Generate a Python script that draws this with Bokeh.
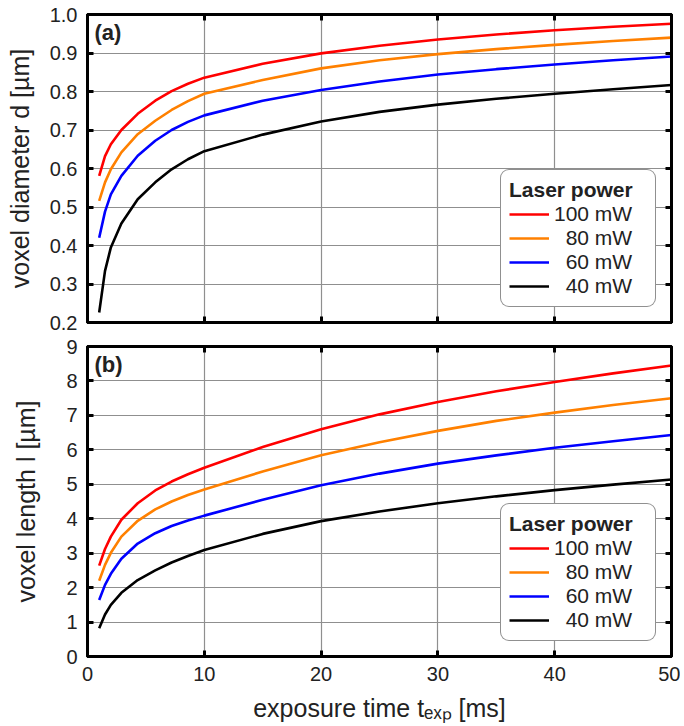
from bokeh.plotting import figure
from bokeh.layouts import column
from bokeh.models import (LinearAxis, FixedTicker, PrintfTickFormatter, Legend,
                          LegendItem, Label, Range1d, CustomLabelingPolicy)
from bokeh.embed import file_html
from bokeh.resources import INLINE

# ---- data ----
t_exp = [1, 1.5, 2, 2.9, 4.3, 5.8, 7.2, 8.6, 10, 15, 20, 25, 30, 35, 40, 45, 50]

d_100 = [0.581, 0.632, 0.663, 0.700, 0.742, 0.776, 0.801, 0.820, 0.836, 0.872,
         0.899, 0.919, 0.935, 0.948, 0.959, 0.968, 0.976]
d_80 = [0.516, 0.564, 0.598, 0.642, 0.689, 0.724, 0.752, 0.775, 0.794, 0.830,
        0.860, 0.881, 0.897, 0.910, 0.921, 0.931, 0.940]
d_60 = [0.420, 0.488, 0.533, 0.581, 0.633, 0.672, 0.700, 0.721, 0.738, 0.776,
        0.804, 0.826, 0.844, 0.858, 0.870, 0.881, 0.891]
d_40 = [0.226, 0.334, 0.395, 0.457, 0.520, 0.564, 0.598, 0.624, 0.645, 0.688,
        0.722, 0.747, 0.766, 0.781, 0.794, 0.806, 0.817]

l_100 = [2.64, 3.12, 3.48, 3.97, 4.45, 4.82, 5.08, 5.29, 5.48, 6.08,
         6.60, 7.03, 7.39, 7.70, 7.97, 8.22, 8.45]
l_80 = [2.20, 2.66, 3.01, 3.48, 3.94, 4.27, 4.50, 4.69, 4.85, 5.37,
        5.84, 6.22, 6.55, 6.84, 7.08, 7.30, 7.50]
l_60 = [1.64, 2.08, 2.40, 2.84, 3.28, 3.58, 3.79, 3.95, 4.09, 4.55,
        4.97, 5.31, 5.60, 5.84, 6.06, 6.25, 6.43]
l_40 = [0.82, 1.22, 1.50, 1.85, 2.22, 2.50, 2.73, 2.92, 3.09, 3.56,
        3.93, 4.21, 4.45, 4.65, 4.83, 4.99, 5.14]

powers = ["100 mW", "\u200780 mW", "\u200760 mW", "\u200740 mW"]
colors = ["#ff0000", "#ff8000", "#0000ff", "#000000"]

x_ticks = [0, 10, 20, 30, 40, 50]
d_ticks = [0.2, 0.3, 0.4, 0.5, 0.6, 0.7, 0.8, 0.9, 1.0]
l_ticks = [0, 1, 2, 3, 4, 5, 6, 7, 8, 9]

FONT = "Liberation Sans, Arial, sans-serif"
TXT = "#222222"
GRID = "#8f8f8f"

NO_LABELS = "for (const i of indices) { indices.unset(i) }\nreturn indices"


def style_axis(ax, ticks, show_labels, fmt=None):
    ax.ticker = FixedTicker(ticks=ticks)
    if fmt is not None:
        ax.formatter = fmt
    ax.major_tick_in = 6
    ax.major_tick_out = 0
    ax.major_tick_line_width = 3
    ax.major_tick_line_color = "black"
    ax.minor_tick_line_color = None
    ax.axis_line_width = 3
    ax.axis_line_color = "black"
    ax.major_label_text_font = FONT
    ax.major_label_text_color = TXT
    if show_labels:
        ax.major_label_text_font_size = "20px"
        ax.major_label_standoff = 10
    else:
        ax.major_label_text_font_size = "1px"
        ax.major_label_policy = CustomLabelingPolicy(code=NO_LABELS)
        ax.major_label_standoff = 0


def make_panel(height, yrange, yticks, ylabel, series, tag, show_x_labels,
               border_top, border_bottom, ytitle_standoff):
    p = figure(width=680, height=height, x_range=Range1d(0, 50),
               y_range=Range1d(*yrange), output_backend="svg",
               toolbar_location=None, x_axis_location=None, y_axis_location=None,
               min_border_left=87, min_border_right=9,
               min_border_top=border_top, min_border_bottom=border_bottom)
    p.outline_line_color = "black"
    p.outline_line_width = 3
    p.background_fill_color = "white"
    p.border_fill_color = "white"

    left = LinearAxis(axis_label=ylabel)
    style_axis(left, yticks, True,
               PrintfTickFormatter(format="%.1f") if yrange[1] < 2 else None)
    left.axis_label_text_font = FONT
    left.axis_label_text_font_size = "25px"
    left.axis_label_text_font_style = "normal"
    left.axis_label_text_color = TXT
    left.axis_label_standoff = ytitle_standoff
    p.add_layout(left, "left")

    right = LinearAxis()
    style_axis(right, yticks, False)
    p.add_layout(right, "right")

    top = LinearAxis()
    style_axis(top, x_ticks, False)
    p.add_layout(top, "above")

    bottom = LinearAxis()
    style_axis(bottom, x_ticks, show_x_labels)
    if show_x_labels:
        bottom.axis_label = "exposure time t\u2091\u2093\u209a [ms]"
        bottom.axis_label_text_font = FONT
        bottom.axis_label_text_font_size = "25px"
        bottom.axis_label_text_font_style = "normal"
        bottom.axis_label_text_color = TXT
        bottom.axis_label_standoff = 10
    p.add_layout(bottom, "below")

    p.xgrid.ticker = FixedTicker(ticks=x_ticks)
    p.ygrid.ticker = FixedTicker(ticks=yticks)
    for g in (p.xgrid, p.ygrid):
        g.grid_line_color = GRID
        g.grid_line_width = 1.2

    items = []
    for vals, c, name in zip(series, colors, powers):
        r = p.line(t_exp, vals, line_color=c, line_width=2.6)
        items.append(LegendItem(label=name, renderers=[r]))

    leg = Legend(items=items, location="bottom_right", title="Laser power")
    leg.title_text_font = FONT
    leg.title_text_font_style = "bold"
    leg.title_text_font_size = "21px"
    leg.title_text_color = TXT
    leg.title_standoff = 0
    leg.label_text_font = FONT
    leg.label_text_font_size = "21px"
    leg.label_text_color = TXT
    leg.glyph_width = 40
    leg.glyph_height = 20
    leg.label_height = 20
    leg.label_width = 93
    leg.spacing = 0
    leg.label_standoff = 5
    leg.margin = 15
    leg.padding = 8
    leg.border_line_color = "#222222"
    leg.border_line_width = 1.5
    leg.border_radius = 9
    leg.background_fill_color = "white"
    leg.background_fill_alpha = 1.0
    p.add_layout(leg)

    span = yrange[1] - yrange[0]
    p.add_layout(Label(x=0.6, y=yrange[1] - span * 0.018, text=tag,
                       text_font=FONT, text_font_style="bold",
                       text_font_size="22px", text_color=TXT,
                       text_baseline="top", text_align="left"))
    return p


pa = make_panel(334, (0.2, 1.0), d_ticks, "voxel diameter d [\u00b5m]",
                [d_100, d_80, d_60, d_40], "(a)", False, 14, 12, 13)
pb = make_panel(392, (0, 9), l_ticks, "voxel length l [\u00b5m]",
                [l_100, l_80, l_60, l_40], "(b)", True, 12, 70, 23)

layout = column(pa, pb, spacing=0)

with open("out.html", "w") as f:
    f.write(file_html(layout, INLINE))
